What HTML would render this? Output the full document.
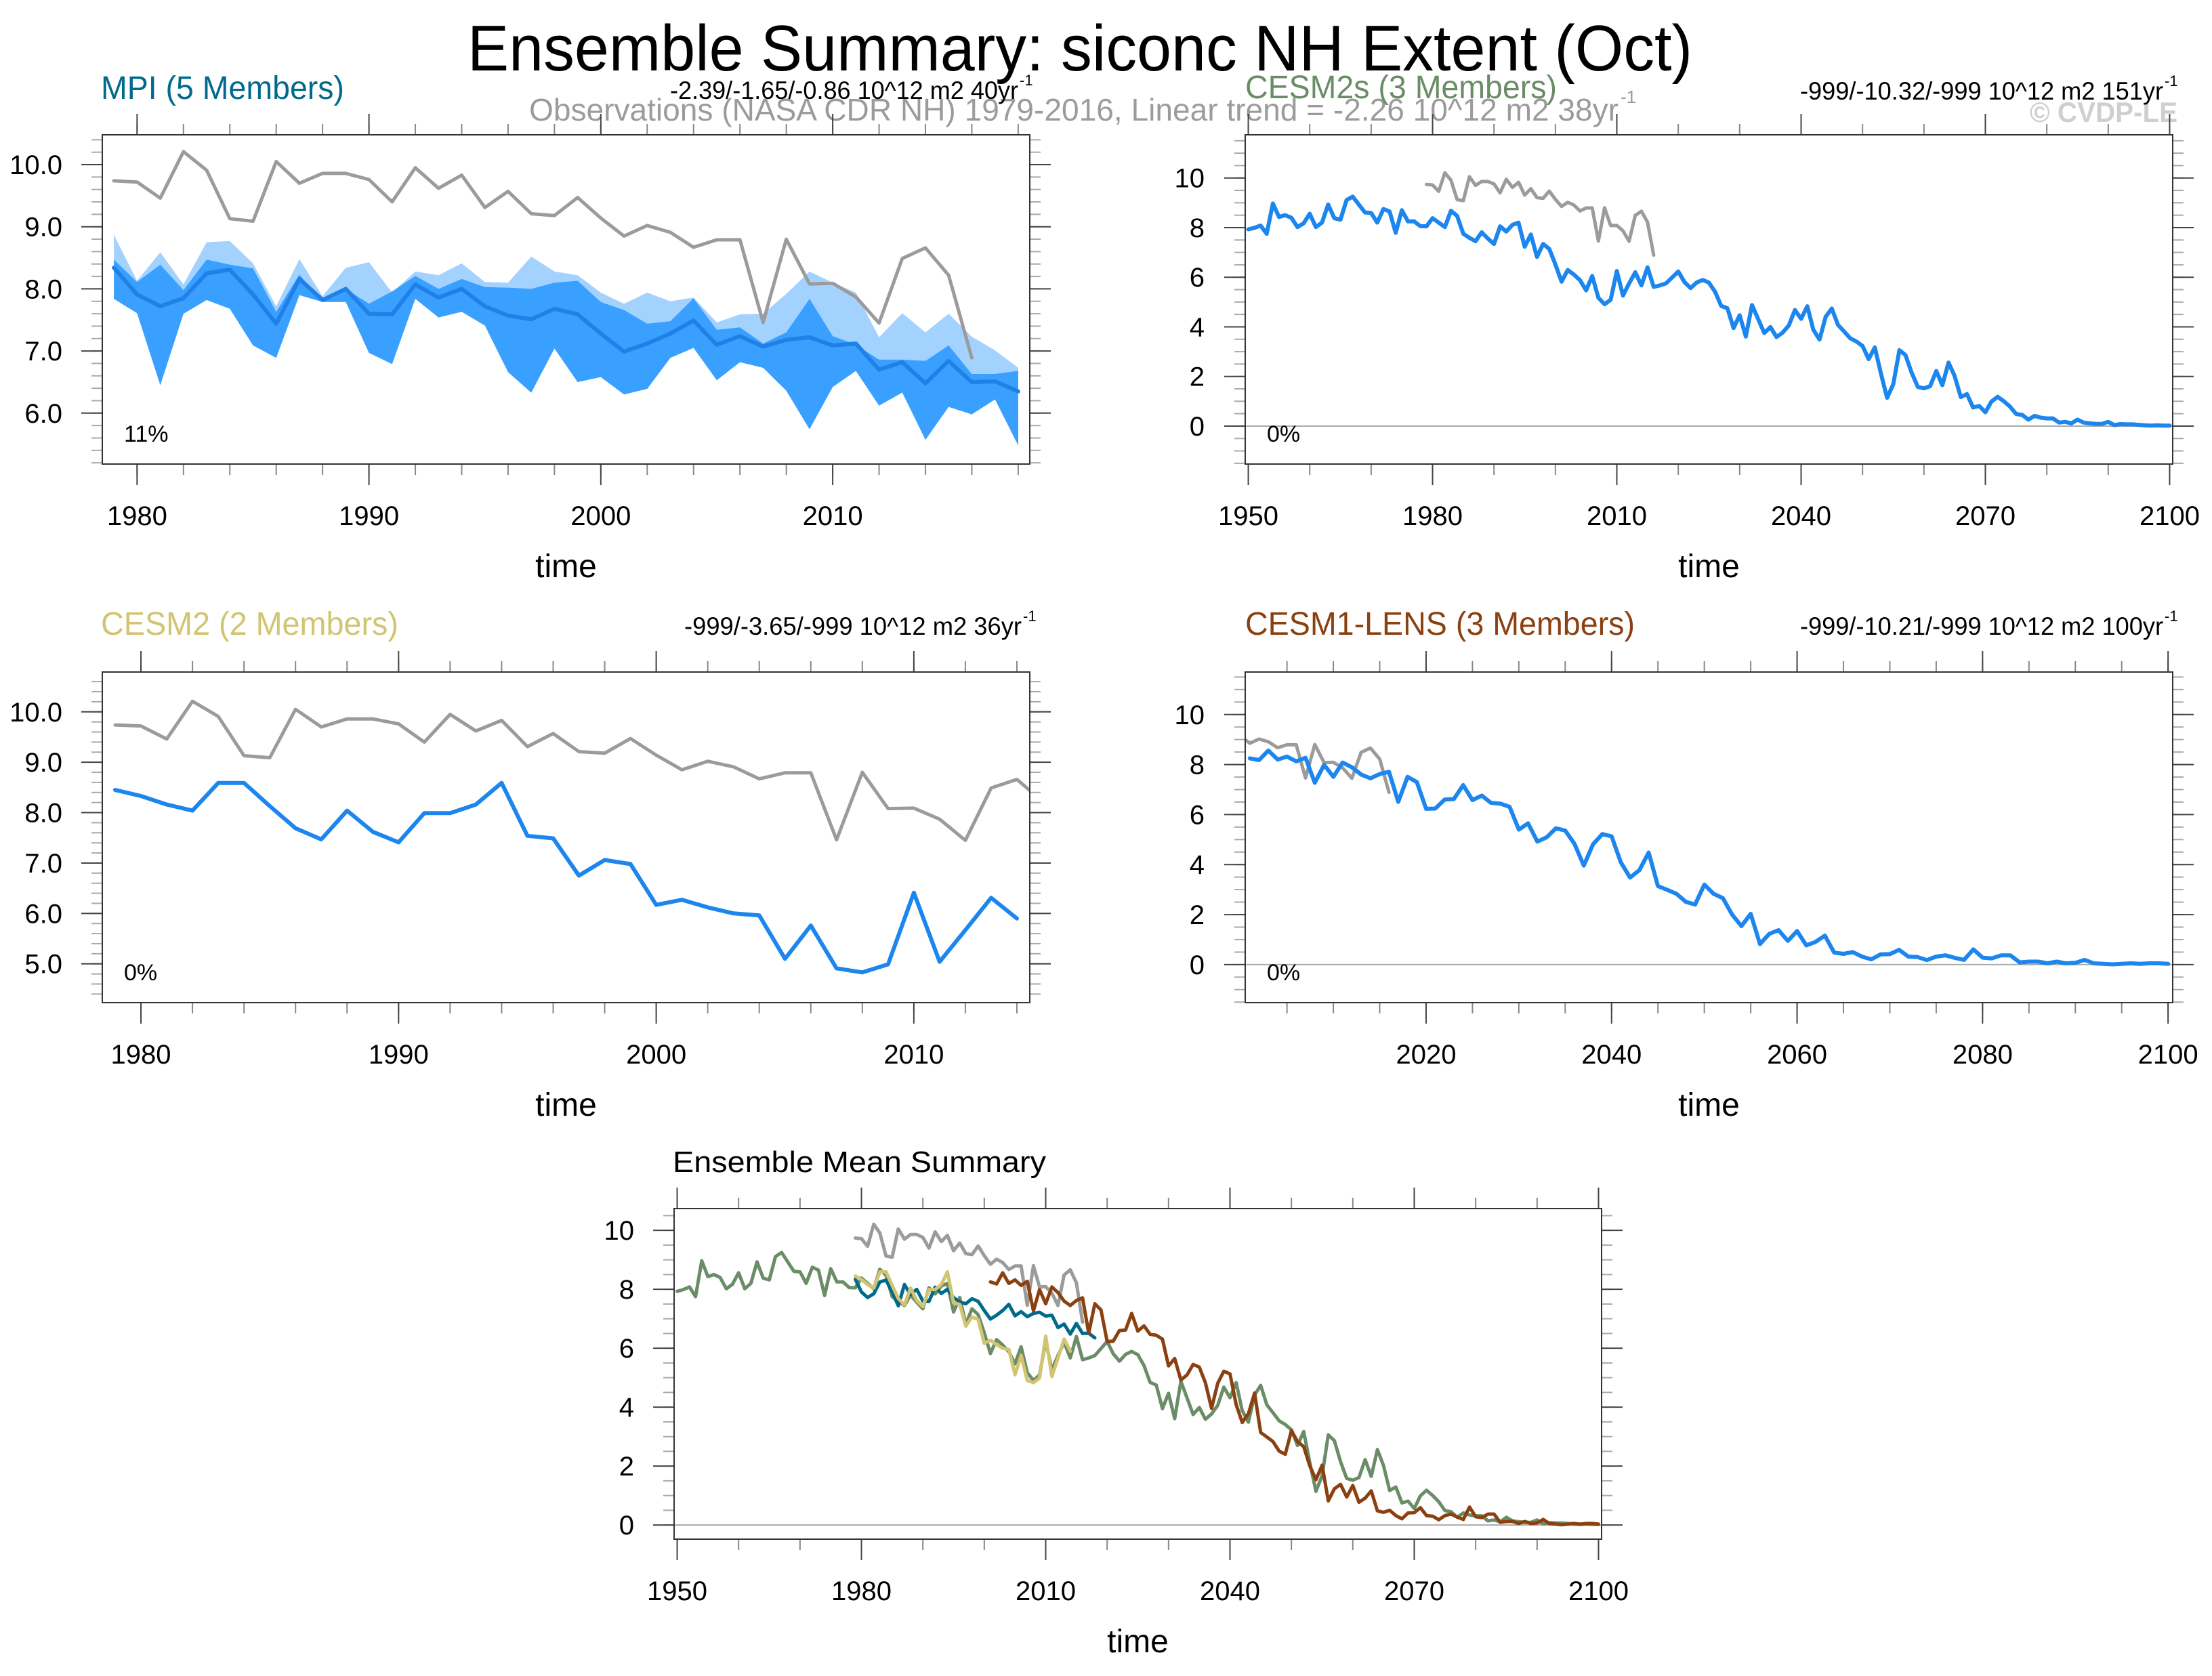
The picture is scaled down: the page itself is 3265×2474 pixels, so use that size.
<!DOCTYPE html>
<html><head><meta charset="utf-8"><title>Ensemble Summary: siconc NH Extent (Oct)</title>
<style>
html,body{margin:0;padding:0;background:#fff;}
svg{display:block;font-family:"Liberation Sans",Arial,sans-serif;}
</style></head>
<body>
<svg id="chart" xmlns="http://www.w3.org/2000/svg" width="3265" height="2474" viewBox="0 0 3265 2474">
<rect x="0" y="0" width="3265" height="2474" fill="#fff"/>
<text x="690" y="104" font-size="96" fill="#000" textLength="1808" lengthAdjust="spacingAndGlyphs">Ensemble Summary: siconc NH Extent (Oct)</text>
<text x="781" y="178" font-size="46" fill="#9b9b9b" textLength="1608" lengthAdjust="spacingAndGlyphs">Observations (NASA CDR NH) 1979-2016, Linear trend = -2.26 10^12 m2 38yr</text>
<text x="2392" y="152" font-size="26" fill="#9b9b9b">-1</text>
<text x="3214" y="180" font-size="42" font-weight="bold" fill="#cfcfcf" text-anchor="end" textLength="218" lengthAdjust="spacingAndGlyphs">© CVDP-LE</text>
<g id="panels"></g>
</svg>
<script>
// ---------- data ----------
const obsYears = [1979,1980,1981,1982,1983,1984,1985,1986,1987,1988,1989,1990,1991,1992,1993,1994,1995,1996,1997,1998,1999,2000,2001,2002,2003,2004,2005,2006,2007,2008,2009,2010,2011,2012,2013,2014,2015,2016];
const obsValues = [9.74,9.72,9.46,10.21,9.91,9.13,9.09,10.05,9.70,9.86,9.86,9.76,9.40,9.95,9.62,9.83,9.31,9.57,9.21,9.18,9.47,9.14,8.85,9.02,8.91,8.67,8.79,8.79,7.46,8.80,8.08,8.09,7.87,7.45,8.49,8.66,8.22,6.89];

const mpiStart = 1979;
const mpiMean = [8.34,7.91,7.72,7.85,8.25,8.31,7.91,7.44,8.16,7.82,8.00,7.60,7.59,8.07,7.86,8.00,7.72,7.57,7.51,7.68,7.59,7.28,6.99,7.12,7.28,7.49,7.10,7.24,7.07,7.18,7.22,7.09,7.12,6.70,6.82,6.48,6.84,6.50,6.51,6.35];
const mpiMax = [8.87,8.13,8.59,8.07,8.75,8.77,8.41,7.72,8.48,7.88,8.34,8.43,7.94,8.28,8.22,8.41,8.11,8.10,8.52,8.28,8.22,7.94,7.76,7.94,7.80,7.86,7.46,7.59,7.60,7.92,8.28,8.10,7.94,7.22,7.61,7.30,7.60,7.23,7.01,6.73];
const mpiUpper = [8.47,8.11,8.39,7.98,8.47,8.39,8.33,7.63,8.23,7.79,8.00,7.76,7.96,8.21,8.00,8.16,8.03,8.02,8.00,8.10,8.13,7.79,7.66,7.44,7.48,7.85,7.34,7.38,7.12,7.30,7.84,7.24,7.10,6.86,6.86,6.84,7.09,6.63,6.63,6.68];
const mpiMin = [7.84,7.61,6.45,7.60,7.82,7.68,7.09,6.89,7.90,7.79,7.79,6.97,6.79,7.84,7.54,7.63,7.41,6.66,6.33,7.04,6.50,6.58,6.30,6.39,6.89,7.05,6.53,6.82,6.73,6.36,5.74,6.42,6.68,6.12,6.33,5.57,6.10,5.98,6.22,5.48];

const cesm2sStart = 1950;
const cesm2sValues = [7.93,7.99,8.08,7.75,8.97,8.43,8.50,8.40,8.02,8.17,8.56,8.02,8.20,8.93,8.38,8.32,9.11,9.25,8.93,8.61,8.59,8.20,8.75,8.65,7.79,8.70,8.25,8.25,8.06,8.05,8.38,8.20,8.02,8.68,8.47,7.75,7.59,7.45,7.81,7.56,7.34,8.05,7.84,8.11,8.20,7.23,7.72,6.82,7.34,7.14,6.52,5.82,6.29,6.11,5.88,5.47,6.05,5.17,4.91,5.09,6.25,5.26,5.75,6.20,5.67,6.40,5.61,5.67,5.75,5.99,6.23,5.81,5.56,5.79,5.89,5.78,5.41,4.84,4.75,3.95,4.47,3.61,4.88,4.32,3.75,3.99,3.59,3.77,4.06,4.68,4.32,4.83,3.88,3.49,4.41,4.74,4.08,3.81,3.54,3.41,3.23,2.70,3.17,2.11,1.14,1.68,3.06,2.86,2.15,1.58,1.52,1.61,2.22,1.65,2.56,2.02,1.17,1.29,0.75,0.81,0.56,0.99,1.18,1.00,0.79,0.49,0.45,0.26,0.41,0.34,0.31,0.31,0.14,0.17,0.11,0.26,0.14,0.11,0.09,0.09,0.17,0.04,0.08,0.07,0.07,0.05,0.03,0.02,0.03,0.02,0.02];

const cesm2Start = 1979;
const cesm2Values = [8.45,8.33,8.16,8.04,8.59,8.59,8.13,7.69,7.47,8.04,7.62,7.41,7.99,7.99,8.16,8.59,7.54,7.49,6.75,7.06,6.98,6.17,6.27,6.12,6.00,5.96,5.10,5.76,4.91,4.83,4.99,6.41,5.04,5.67,6.31,5.90];

const lensStart = 2001;
const lensValues = [8.25,8.18,8.56,8.20,8.32,8.13,8.27,7.27,7.99,7.51,8.08,7.89,7.60,7.45,7.62,7.71,6.51,7.51,7.30,6.23,6.24,6.60,6.62,7.18,6.58,6.76,6.47,6.44,6.31,5.40,5.65,4.92,5.09,5.45,5.36,4.83,3.96,4.81,5.22,5.13,4.09,3.48,3.78,4.48,3.14,2.99,2.83,2.51,2.40,3.20,2.83,2.66,2.00,1.54,2.03,0.82,1.23,1.38,0.95,1.34,0.77,0.91,1.16,0.48,0.43,0.50,0.32,0.21,0.41,0.42,0.59,0.32,0.30,0.18,0.32,0.37,0.27,0.19,0.61,0.28,0.25,0.37,0.37,0.09,0.12,0.12,0.05,0.12,0.05,0.07,0.19,0.05,0.03,0.01,0.03,0.05,0.03,0.05,0.05,0.03];

const yTicksA = ["6.0","7.0","8.0","9.0","10.0"];
const yTicksB = ["0","2","4","6","8","10"];
const yTicksC = ["5.0","6.0","7.0","8.0","9.0","10.0"];
const xTicks1 = ["1980","1990","2000","2010"];
const xTicks2 = ["1950","1980","2010","2040","2070","2100"];
const xTicks4 = ["2020","2040","2060","2080","2100"];

// ---------- colours ----------
const C_OBS = "#9b9b9b", C_BLUE = "#1c86ee", C_MPI = "#006a8c", C_C2S = "#6a8c67", C_C2 = "#d2c470", C_LENS = "#8b4010";

const NS = "http://www.w3.org/2000/svg";
const root = document.getElementById("panels");
function mk(tag, attrs, parent) {
  const e = document.createElementNS(NS, tag);
  for (const k in attrs) e.setAttribute(k, attrs[k]);
  (parent || root).appendChild(e);
  return e;
}
function seq(start, n) { const a = []; for (let i = 0; i < n; i++) a.push(start + i); return a; }

let clipId = 0;
function panel(cfg) {
  const g = mk("g", {});
  
  
  const [x0, y0, x1, y1] = cfg.box;
  const sx = v => x0 + (v - cfg.xr[0]) / (cfg.xr[1] - cfg.xr[0]) * (x1 - x0);
  const sy = v => y1 - (v - cfg.yr[0]) / (cfg.yr[1] - cfg.yr[0]) * (y1 - y0);
  cfg.sx = sx; cfg.sy = sy; cfg.g = g;
  const cid = "clip" + (clipId++);
  const cp = mk("clipPath", { id: cid }, g);
  mk("rect", { x: x0, y: y0, width: x1 - x0, height: y1 - y0 }, cp);
  // minor y ticks
  for (let v = cfg.yMinor[0]; v <= cfg.yr[1] + 1e-6; v += cfg.yMinor[1]) {
    if (v < cfg.yr[0]) continue;
    const y = sy(v);
    const t1 = mk("line", { x1: x0 - 16, y1: y, x2: x0, y2: y, stroke: "#aaa", "stroke-width": 2 }, g);
    
    
    const t2 = mk("line", { x1: x1, y1: y, x2: x1 + 16, y2: y, stroke: "#aaa", "stroke-width": 2 }, g);
    
    
  }
  // minor x ticks
  for (let v = cfg.xMinor[0]; v <= cfg.xr[1]; v += cfg.xMinor[1]) {
    if (v < cfg.xr[0]) continue;
    const x = sx(v);
    const t1 = mk("line", { x1: x, y1: y0 - 16, x2: x, y2: y0, stroke: "#888", "stroke-width": 2 }, g);
    
    
    const t2 = mk("line", { x1: x, y1: y1, x2: x, y2: y1 + 16, stroke: "#888", "stroke-width": 2 }, g);
    
    
  }
  // major y ticks + labels
  cfg.yTicks.forEach(lab => {
    const v = parseFloat(lab), y = sy(v);
    const t1 = mk("line", { x1: x0 - 31, y1: y, x2: x0, y2: y, stroke: "#444", "stroke-width": 2 }, g);
    
    
    const t2 = mk("line", { x1: x1, y1: y, x2: x1 + 31, y2: y, stroke: "#444", "stroke-width": 2 }, g);
    
    
    const t = mk("text", { x: cfg.yLabelX, y: y + 14, "font-size": 40, "text-anchor": "end", fill: "#000" }, g);
    t.textContent = lab;
    
    
  });
  // major x ticks + labels
  cfg.xTicks.forEach(lab => {
    const v = parseFloat(lab), x = sx(v);
    const t1 = mk("line", { x1: x, y1: y0 - 31, x2: x, y2: y0, stroke: "#444", "stroke-width": 2 }, g);
    
    
    const t2 = mk("line", { x1: x, y1: y1, x2: x, y2: y1 + 31, stroke: "#444", "stroke-width": 2 }, g);
    
    
    const t = mk("text", { x: x, y: cfg.xLabelY, "font-size": 40, "text-anchor": "middle", fill: "#000" }, g);
    t.textContent = lab;
    
    
  });
  const xt = mk("text", { x: (x0 + x1) / 2, y: cfg.xLabelY + 77, "font-size": 48, "text-anchor": "middle", fill: "#000" }, g);
  xt.textContent = "time";
  
  
  // plot content group (clipped)
  const pg = mk("g", { "clip-path": "url(#" + cid + ")" }, g);
  
  
  cfg.pg = pg;
  if (cfg.zeroLine) {
    const z = mk("line", { x1: x0, y1: sy(0), x2: x1, y2: sy(0), stroke: "#aaa", "stroke-width": 2 }, pg);
    
    
  }
  // frame drawn later
  cfg.frame = () => {
    const f = mk("rect", { x: x0, y: y0, width: x1 - x0, height: y1 - y0, fill: "none", stroke: "#333", "stroke-width": 2 }, g);
    
    
  };
  // title texts
  if (cfg.title) {
    const t = mk("text", { x: cfg.title.x, y: cfg.title.y, "font-size": cfg.title.size, fill: cfg.title.color, textLength: cfg.title.w, lengthAdjust: "spacingAndGlyphs" }, g);
    t.textContent = cfg.title.text;
    
    
  }
  if (cfg.trend) {
    const t = mk("text", { x: cfg.trend.x, y: cfg.trend.y, "font-size": 37, fill: "#000", "text-anchor": "end", textLength: cfg.trend.w, lengthAdjust: "spacingAndGlyphs" }, g);
    t.textContent = cfg.trend.text;
    
    
    const s = mk("text", { x: cfg.trend.x + 2, y: cfg.trend.y - 20, "font-size": 22, fill: "#000" }, g);
    s.textContent = "-1";
    
    
  }
  if (cfg.pct) {
    const t = mk("text", { x: x0 + 32, y: y1 - 33, "font-size": 34, fill: "#000" }, g);
    t.textContent = cfg.pct;
    
    
  }
  return cfg;
}

function pathD(cfg, years, vals) {
  return years.map((yr, i) => (i ? "L" : "M") + cfg.sx(yr).toFixed(1) + "," + cfg.sy(vals[i]).toFixed(1)).join(" ");
}
function line(cfg, years, vals, color, w, name) {
  const p = mk("path", { d: pathD(cfg, years, vals), fill: "none", stroke: color, "stroke-width": w, "stroke-linejoin": "round", "stroke-linecap": "round" }, cfg.pg);
  
  
}
function band(cfg, years, hi, lo, color, name) {
  const top = years.map((yr, i) => (i ? "L" : "M") + cfg.sx(yr).toFixed(1) + "," + cfg.sy(hi[i]).toFixed(1)).join(" ");
  const bot = years.slice().reverse().map((yr, j) => { const i = years.length - 1 - j; return "L" + cfg.sx(yr).toFixed(1) + "," + cfg.sy(lo[i]).toFixed(1); }).join(" ");
  const p = mk("path", { d: top + " " + bot + " Z", fill: color, stroke: "none" }, cfg.pg);
  
  
}

const mpiYears = seq(mpiStart, mpiMean.length);
const c2sYears = seq(cesm2sStart, cesm2sValues.length);
const c2Years = seq(cesm2Start, cesm2Values.length);
const lensYears = seq(lensStart, lensValues.length);

// Panel 1: MPI
const p1 = panel({ name: "mpi-panel", box: [151, 199, 1520, 685], xr: [1978.5, 2018.5], yr: [5.18, 10.48],
  yTicks: yTicksA, yMinor: [5.2, 0.2], xTicks: xTicks1, xMinor: [1980, 2], yLabelX: 92, xLabelY: 775,
  title: { x: 149, y: 146, size: 48, color: C_MPI, text: "MPI (5 Members)", w: 359 },
  trend: { x: 1503, y: 146, text: "-2.39/-1.65/-0.86 10^12 m2 40yr", w: 514 }, pct: "11%" });
band(p1, mpiYears, mpiMax, mpiMin, "#a4d2ff", "mpi-range-band");
band(p1, mpiYears, mpiUpper, mpiMin, "#3aa0ff", "mpi-interquartile-band");
line(p1, obsYears, obsValues, C_OBS, 5, "observations-line");
line(p1, mpiYears, mpiMean, "#1f80e8", 6, "mpi-ensemble-mean-line");
p1.frame();

// Panel 2: CESM2s
const p2 = panel({ name: "cesm2s-panel", box: [1838, 199, 3207, 685], xr: [1949.5, 2100.5], yr: [-1.53, 11.74],
  yTicks: yTicksB, yMinor: [-1.5, 0.5], xTicks: xTicks2, xMinor: [1950, 10], yLabelX: 1778, xLabelY: 775, zeroLine: true,
  title: { x: 1838, y: 145, size: 48, color: C_C2S, text: "CESM2s (3 Members)", w: 460 },
  trend: { x: 3193, y: 147, text: "-999/-10.32/-999 10^12 m2 151yr", w: 536 }, pct: "0%" });
line(p2, obsYears, obsValues, C_OBS, 5, "observations-line");
line(p2, c2sYears, cesm2sValues, C_BLUE, 6, "cesm2s-ensemble-mean-line");
p2.frame();

// Panel 3: CESM2
const p3 = panel({ name: "cesm2-panel", box: [151, 992, 1520, 1480], xr: [1978.5, 2014.5], yr: [4.23, 10.79],
  yTicks: yTicksC, yMinor: [4.4, 0.2], xTicks: xTicks1, xMinor: [1980, 2], yLabelX: 92, xLabelY: 1570,
  title: { x: 149, y: 937, size: 48, color: C_C2, text: "CESM2 (2 Members)", w: 439 },
  trend: { x: 1508, y: 937, text: "-999/-3.65/-999 10^12 m2 36yr", w: 498 }, pct: "0%" });
line(p3, obsYears, obsValues, C_OBS, 5, "observations-line");
line(p3, c2Years, cesm2Values, C_BLUE, 6, "cesm2-ensemble-mean-line");
p3.frame();

// Panel 4: CESM1-LENS
const p4 = panel({ name: "cesm1-lens-panel", box: [1838, 992, 3207, 1480], xr: [2000.5, 2100.5], yr: [-1.52, 11.7],
  yTicks: yTicksB, yMinor: [-1.5, 0.5], xTicks: xTicks4, xMinor: [2005, 5], yLabelX: 1778, xLabelY: 1570, zeroLine: true,
  title: { x: 1838, y: 937, size: 48, color: C_LENS, text: "CESM1-LENS (3 Members)", w: 575 },
  trend: { x: 3193, y: 937, text: "-999/-10.21/-999 10^12 m2 100yr", w: 536 }, pct: "0%" });
line(p4, obsYears, obsValues, C_OBS, 5, "observations-line");
line(p4, lensYears, lensValues, C_BLUE, 6, "cesm1-lens-ensemble-mean-line");
p4.frame();

// Panel 5: Ensemble mean summary
const p5 = panel({ name: "ensemble-mean-summary-panel", box: [995, 1784, 2364, 2272], xr: [1949.5, 2100.5], yr: [-0.48, 10.74],
  yTicks: yTicksB, yMinor: [-0.5, 0.5], xTicks: xTicks2, xMinor: [1950, 10], yLabelX: 936, xLabelY: 2362, zeroLine: true,
  title: { x: 993, y: 1730, size: 44, color: "#000", text: "Ensemble Mean Summary", w: 551 } });
line(p5, obsYears, obsValues, C_OBS, 5, "observations-line");
line(p5, c2sYears, cesm2sValues, C_C2S, 5, "cesm2s-mean-line");
line(p5, mpiYears, mpiMean, C_MPI, 5, "mpi-mean-line");
line(p5, c2Years, cesm2Values, C_C2, 5, "cesm2-mean-line");
line(p5, lensYears, lensValues, C_LENS, 5, "cesm1-lens-mean-line");
p5.frame();
</script>
</body></html>
